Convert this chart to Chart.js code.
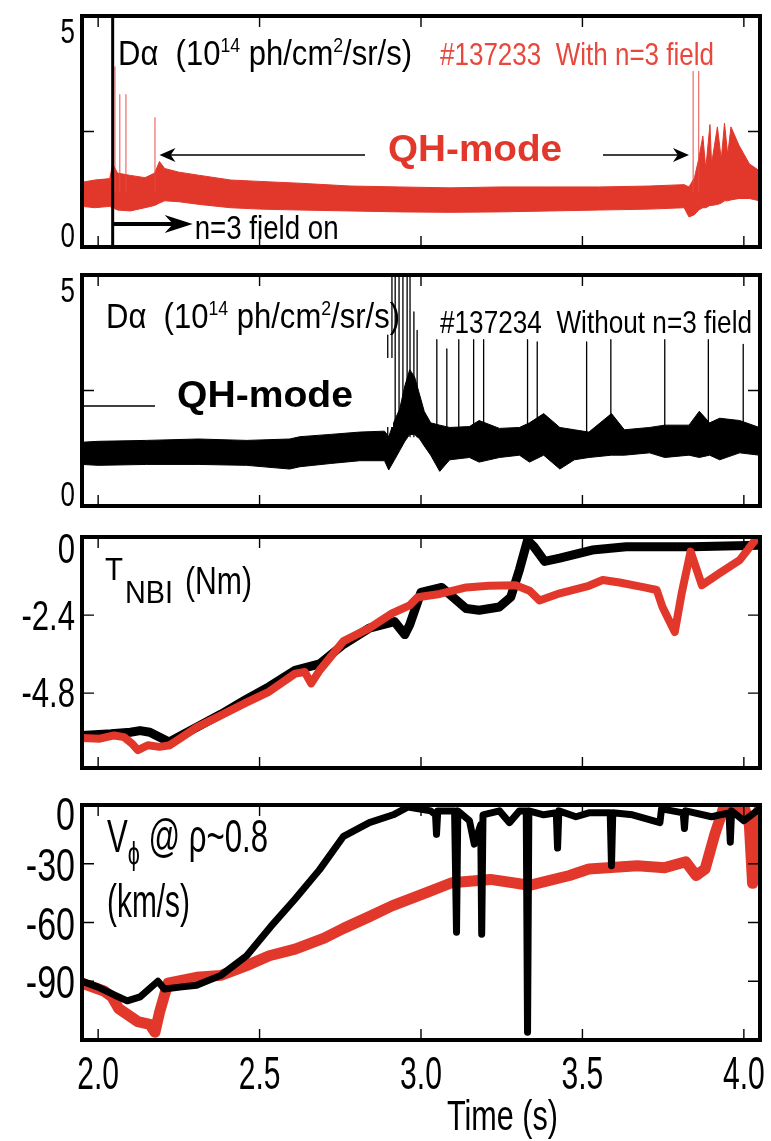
<!DOCTYPE html>
<html>
<head>
<meta charset="utf-8">
<script src="https://cdn.jsdelivr.net/npm/chart.js@4.4.1/dist/chart.umd.min.js"></script>
<style>
  body { margin: 0; background: #fff; }
  #wrap { position: relative; width: 771px; height: 1141px; }
  #wrap canvas { position: absolute; left: 0; }
</style>
</head>
<body>
<div id="wrap">
  <canvas id="c1" width="771" height="262" style="top:0px"></canvas>
  <canvas id="c2" width="771" height="260" style="top:262px"></canvas>
  <canvas id="c3" width="771" height="264" style="top:522px"></canvas>
  <canvas id="c4" width="771" height="355" style="top:786px"></canvas>
</div>
<script>
// ---- data ----
const timeMin = 1.95, timeMax = 4.05;
const timeTicks = [2.0, 2.5, 3.0, 3.5, 4.0];
const timeTickLabels = ['2.0', '2.5', '3.0', '3.5', '4.0'];
const fieldOnTime = 2.045;
const qhStart = 2.19, qhEnd = 3.83;

// D-alpha #137233 (with n=3 field), upper / lower edge of the noisy trace
const da233Time = [1.95, 1.99, 2.036, 2.045, 2.06, 2.10, 2.145, 2.175, 2.19, 2.206, 2.25, 2.315, 2.41, 2.50, 2.625, 2.78, 2.934, 3.09, 3.243, 3.40, 3.553, 3.708, 3.815, 3.83, 3.847, 3.86, 3.873, 3.882, 3.895, 3.90, 3.918, 3.93, 3.94, 3.95, 3.96, 3.985, 4.017, 4.048];
const da233Hi = [1.40, 1.45, 1.48, 1.80, 1.60, 1.55, 1.50, 1.60, 1.85, 1.70, 1.62, 1.55, 1.45, 1.42, 1.38, 1.32, 1.30, 1.28, 1.30, 1.30, 1.30, 1.32, 1.35, 1.30, 1.50, 1.90, 2.40, 1.70, 2.65, 1.80, 2.60, 1.90, 2.68, 2.00, 2.60, 2.20, 1.80, 1.65];
const da233Lo = [0.88, 0.85, 0.88, 0.85, 0.80, 0.78, 0.85, 0.90, 0.95, 1.00, 0.98, 0.92, 0.85, 0.82, 0.80, 0.78, 0.76, 0.75, 0.76, 0.78, 0.80, 0.82, 0.85, 0.65, 0.70, 0.80, 0.85, 0.85, 0.90, 0.90, 0.92, 0.95, 1.00, 1.00, 1.02, 1.05, 1.05, 1.00];
const da233SpikeTime = [2.052, 2.067, 2.086, 2.176, 3.843, 3.86];
const da233SpikePeak = [3.9, 3.3, 3.3, 2.8, 3.8, 3.8];

// D-alpha #137234 (without n=3 field)
const da234Time = [1.95, 2.0, 2.15, 2.31, 2.46, 2.593, 2.625, 2.72, 2.81, 2.887, 2.90, 2.918, 2.934, 2.95, 2.965, 2.98, 2.996, 3.01, 3.03, 3.058, 3.089, 3.15, 3.18, 3.243, 3.305, 3.336, 3.38, 3.43, 3.475, 3.52, 3.59, 3.63, 3.708, 3.755, 3.83, 3.862, 3.894, 3.925, 3.987, 4.048];
const da234Hi = [1.38, 1.40, 1.42, 1.45, 1.42, 1.45, 1.50, 1.55, 1.60, 1.62, 1.50, 1.85, 2.10, 2.60, 2.95, 2.80, 2.40, 2.05, 1.80, 1.75, 1.70, 1.72, 1.85, 1.68, 1.70, 1.80, 2.00, 1.70, 1.65, 1.60, 2.00, 1.65, 1.70, 1.75, 1.75, 2.05, 1.80, 1.90, 1.85, 1.70];
const da234Lo = [0.90, 0.88, 0.90, 0.90, 0.88, 0.80, 0.85, 0.92, 0.98, 0.98, 0.78, 1.00, 1.20, 1.40, 1.55, 1.55, 1.45, 1.30, 1.10, 0.75, 1.00, 1.05, 0.95, 1.05, 1.10, 0.95, 1.10, 0.80, 1.00, 1.05, 1.10, 1.10, 1.15, 1.05, 1.10, 1.05, 1.10, 1.00, 1.15, 1.10];
const da234SpikeTime = [2.897, 2.91, 2.92, 2.932, 2.944, 2.957, 2.966, 2.978, 2.988, 3.049, 3.08, 3.117, 3.163, 3.194, 3.33, 3.36, 3.513, 3.588, 3.755, 3.89, 3.998];
const da234SpikePeak = [3.7, 5, 5, 5, 5, 5, 5, 4.2, 3.8, 3.6, 3.4, 3.6, 3.6, 3.6, 3.6, 3.55, 3.55, 3.6, 3.6, 3.6, 3.5];

// T_NBI (Nm)
const tq233Time = [1.95, 2.005, 2.05, 2.08, 2.105, 2.123, 2.154, 2.19, 2.222, 2.253, 2.305, 2.377, 2.457, 2.53, 2.61, 2.64, 2.66, 2.686, 2.76, 2.84, 2.91, 2.965, 2.99, 3.058, 3.14, 3.21, 3.293, 3.336, 3.367, 3.43, 3.52, 3.563, 3.615, 3.692, 3.73, 3.748, 3.77, 3.786, 3.808, 3.835, 3.87, 3.925, 3.987, 4.04, 4.048];
const tq233 = [-6.18, -6.2, -6.1, -6.15, -6.35, -6.55, -6.4, -6.45, -6.4, -6.2, -5.85, -5.5, -5.1, -4.75, -4.2, -4.15, -4.5, -4.1, -3.2, -2.8, -2.35, -2.1, -1.85, -1.75, -1.55, -1.5, -1.48, -1.65, -1.95, -1.73, -1.5, -1.32, -1.4, -1.55, -1.63, -2.15, -2.6, -2.92, -1.7, -0.45, -1.48, -1.11, -0.71, -0.03, 0];
const tq234Time = [1.95, 2.04, 2.10, 2.13, 2.16, 2.22, 2.305, 2.38, 2.457, 2.53, 2.61, 2.686, 2.76, 2.84, 2.918, 2.95, 2.965, 3.0, 3.064, 3.105, 3.14, 3.18, 3.243, 3.278, 3.305, 3.33, 3.35, 3.383, 3.43, 3.53, 3.636, 3.84, 4.048];
const tq234 = [-6.1, -6.05, -6.0, -5.95, -6.0, -6.3, -5.85, -5.45, -5.0, -4.6, -4.1, -3.9, -3.3, -2.8, -2.6, -3.0, -2.7, -1.7, -1.55, -1.9, -2.2, -2.25, -2.15, -1.85, -1.0, -0.1, -0.3, -0.75, -0.65, -0.4, -0.3, -0.3, -0.25];

// V_phi at rho~0.8 (km/s)
const vp234Time = [1.95, 2.0, 2.05, 2.09, 2.13, 2.185, 2.205, 2.253, 2.305, 2.38, 2.46, 2.535, 2.61, 2.686, 2.76, 2.84, 2.914, 2.96, 3.03, 3.045, 3.048, 3.052, 3.104, 3.11, 3.114, 3.15, 3.165, 3.185, 3.188, 3.192, 3.243, 3.274, 3.305, 3.326, 3.33, 3.334, 3.38, 3.419, 3.423, 3.427, 3.48, 3.52, 3.586, 3.59, 3.594, 3.655, 3.74, 3.745, 3.812, 3.816, 3.82, 3.9, 3.954, 3.958, 3.962, 4.0, 4.048];
const vp234 = [-90, -93, -97, -100, -98, -90, -94, -93, -92, -87, -77, -62, -48, -33, -16, -9, -5, -1, -3, -5, -15, -3, -3, -65, -3, -8, -20, -10, -66, -5, -3, -9, -3, -3, -116, -3, -5, -4, -22, -3, -6, -4, -4, -31, -4, -5, -9, -2, -4, -12, -3, -6, -4, -19, -3, -8, -2];
const vp233Time = [1.95, 2.018, 2.043, 2.064, 2.123, 2.16, 2.176, 2.19, 2.216, 2.305, 2.38, 2.46, 2.53, 2.61, 2.70, 2.76, 2.84, 2.91, 3.017, 3.095, 3.215, 3.336, 3.46, 3.52, 3.67, 3.755, 3.82, 3.852, 3.88, 3.91, 3.94, 3.97, 4.0, 4.017, 4.027, 4.04, 4.048];
const vp233 = [-91, -95, -98, -104, -110.6, -112, -116, -106, -91, -88, -87, -82, -77, -73.6, -68, -63, -57, -51.5, -44.8, -39.7, -38, -41, -36, -32.7, -31, -32, -29, -36, -32.7, -15, 0, -3.4, -0.5, -10, -40, -5, -2];

const daTicks = [5, 2.5, 0], daTickLabels = ['5', '', '0'];
const tqTicks = [0, -2.4, -4.8], tqTickLabels = ['0', '-2.4', '-4.8'];
const vpTicks = [0, -30, -60, -90], vpTickLabels = ['0', '-30', '-60', '-90'];

// ---- styles ----
const RED = '#e2372b';
const TXT_RED = '#e8473c';
const FONT = '"Liberation Sans", Arial, sans-serif';

const pts = (t, v) => t.map((x, i) => ({ x: x, y: v[i] }));
const spikes = (t, v, base) => t.flatMap((x, i) => [{ x: x, y: base }, { x: x, y: v[i] }, { x: x, y: null }]);

function runs(ctx, parts, x, y, o) {
  ctx.save();
  let raw = 0;
  parts.forEach(p => { ctx.font = (p[3] ? 'bold ' : '') + p[1] + 'px ' + FONT; raw += ctx.measureText(p[0]).width; });
  const sx = o.w ? o.w / raw : (o.sx || 1);
  let x0 = x;
  if (o.align === 'right') x0 = x - raw * sx;
  if (o.align === 'center') x0 = x - raw * sx / 2;
  ctx.translate(x0, y);
  ctx.scale(sx, 1);
  ctx.fillStyle = o.color || '#000';
  ctx.textBaseline = 'alphabetic';
  let cx = 0;
  parts.forEach(p => {
    ctx.font = (p[3] ? 'bold ' : '') + p[1] + 'px ' + FONT;
    ctx.fillText(p[0], cx, p[2] || 0);
    cx += ctx.measureText(p[0]).width;
  });
  ctx.restore();
}

function arrow(ctx, x1, x2, y, lw, headLen, headHalf) {
  const dir = x2 > x1 ? 1 : -1;
  ctx.save();
  ctx.strokeStyle = '#000';
  ctx.fillStyle = '#000';
  ctx.lineWidth = lw;
  ctx.beginPath();
  ctx.moveTo(x1, y);
  ctx.lineTo(x2 - dir * headLen * 0.6, y);
  ctx.stroke();
  ctx.beginPath();
  ctx.moveTo(x2, y);
  ctx.lineTo(x2 - dir * headLen, y - headHalf);
  ctx.lineTo(x2 - dir * headLen * 0.7, y);
  ctx.lineTo(x2 - dir * headLen, y + headHalf);
  ctx.closePath();
  ctx.fill();
  ctx.restore();
}

function drawFrame(chart, p) {
  const { ctx, chartArea: a, scales } = chart;
  const xs = scales.x, ys = scales.y;
  ctx.save();
  ctx.strokeStyle = '#000';
  ctx.lineWidth = 1.4;
  ctx.beginPath();
  timeTicks.forEach(v => {
    const px = xs.getPixelForValue(v);
    ctx.moveTo(px, a.bottom); ctx.lineTo(px, a.bottom - 11);
    ctx.moveTo(px, a.top); ctx.lineTo(px, a.top + 11);
  });
  p.yTicks.forEach(v => {
    const py = ys.getPixelForValue(v);
    ctx.moveTo(a.left, py); ctx.lineTo(a.left + 12, py);
    ctx.moveTo(a.right, py); ctx.lineTo(a.right - 12, py);
  });
  ctx.stroke();
  ctx.lineWidth = 4;
  ctx.strokeRect(a.left, a.top, a.right - a.left, a.bottom - a.top);
  ctx.restore();

  p.yTicks.forEach((v, i) => {
    if (!p.yLabels[i]) return;
    const py = ys.getPixelForValue(v);
    runs(ctx, [[p.yLabels[i], p.labelSize]], 75, py + p.labelDy[i], { sx: 0.74, align: 'right' });
  });
  if (p.xLabels) {
    timeTicks.forEach((v, i) => {
      runs(ctx, [[timeTickLabels[i], 47]], xs.getPixelForValue(v), 1089 - 786, { sx: 0.64, align: 'center' });
    });
    runs(ctx, [['Time (s)', 42]], 447, 1130 - 786, { w: 111 });
  }
}

function makePanel(id, p) {
  return new Chart(document.getElementById(id), {
    type: 'line',
    data: { datasets: p.datasets },
    options: {
      responsive: false,
      animation: false,
      events: [],
      layout: { padding: { left: 82, right: 11, top: p.padTop, bottom: p.padBottom } },
      scales: {
        x: { type: 'linear', min: timeMin, max: timeMax, display: false },
        y: { type: 'linear', min: p.yMin, max: p.yMax, display: false }
      },
      plugins: { legend: { display: false }, tooltip: { enabled: false } },
      elements: { point: { radius: 0 }, line: { tension: 0, borderJoinStyle: 'round', borderCapStyle: 'round' } }
    },
    plugins: [{
      id: 'deco',
      afterDraw(chart) {
        if (p.extra) p.extra(chart.ctx, chart);
        drawFrame(chart, p);
      }
    }]
  });
}

// panel 1: D-alpha with n=3 field
makePanel('c1', {
  padTop: 16, padBottom: 15, yMin: 0, yMax: 5,
  yTicks: daTicks, yLabels: daTickLabels, labelSize: 35, labelDy: [27, 0, 0],
  datasets: [
    { data: spikes(da233SpikeTime, da233SpikePeak, 1.2), borderColor: 'rgba(232,75,65,0.75)', borderWidth: 1.3 },
    { data: pts(da233Time, da233Lo), borderColor: RED, borderWidth: 1, fill: false },
    { data: pts(da233Time, da233Hi), borderColor: RED, borderWidth: 1, backgroundColor: RED, fill: '-1' }
  ],
  extra(ctx, chart) {
    const a = chart.chartArea, xs = chart.scales.x;
    const xOn = xs.getPixelForValue(fieldOnTime);
    ctx.save();
    ctx.strokeStyle = '#000';
    ctx.lineWidth = 3;
    ctx.beginPath(); ctx.moveTo(xOn, a.top); ctx.lineTo(xOn, a.bottom); ctx.stroke();
    ctx.restore();
    arrow(ctx, xOn, xOn + 80, 224, 4, 28, 9);
    runs(ctx, [['n=3 field on', 34]], xOn + 82, 239, { w: 144 });
    arrow(ctx, 365, xs.getPixelForValue(qhStart), 155, 1.5, 16, 7);
    arrow(ctx, 603, xs.getPixelForValue(qhEnd), 155, 1.5, 16, 7);
    runs(ctx, [['QH-mode', 37, 0, true]], 475, 161, { w: 174, align: 'center', color: RED });
    runs(ctx, [['D\u03b1  (10', 35], ['14', 20, -13], [' ph/cm', 35], ['2', 20, -13], ['/sr/s)', 35]], 118, 65, { w: 294 });
    runs(ctx, [['#137233  With n=3 field', 32]], 440, 65, { w: 274, color: TXT_RED });
  }
});

// panel 2: D-alpha without n=3 field
makePanel('c2', {
  padTop: 13, padBottom: 16, yMin: 0, yMax: 5,
  yTicks: daTicks, yLabels: daTickLabels, labelSize: 35, labelDy: [27, 0, 0],
  datasets: [
    { data: spikes(da234SpikeTime, da234SpikePeak, 1.5), borderColor: '#000', borderWidth: 1.3 },
    { data: pts(da234Time, da234Lo), borderColor: '#000', borderWidth: 1, fill: false },
    { data: pts(da234Time, da234Hi), borderColor: '#000', borderWidth: 1, backgroundColor: '#000', fill: '-1' }
  ],
  extra(ctx, chart) {
    const a = chart.chartArea;
    ctx.save();
    ctx.fillStyle = '#fff';
    ctx.fillRect(a.left + 2, 358 - 262, 393 - a.left - 2, 427 - 358);
    ctx.strokeStyle = '#000';
    ctx.lineWidth = 1.5;
    ctx.beginPath(); ctx.moveTo(a.left, 406 - 262); ctx.lineTo(155, 406 - 262); ctx.stroke();
    ctx.restore();
    runs(ctx, [['QH-mode', 37, 0, true]], 177, 407 - 262, { w: 176 });
    runs(ctx, [['D\u03b1  (10', 35], ['14', 20, -13], [' ph/cm', 35], ['2', 20, -13], ['/sr/s)', 35]], 106, 328 - 262, { w: 294 });
    runs(ctx, [['#137234  Without n=3 field', 32]], 440, 333 - 262, { w: 312 });
  }
});

// panel 3: NBI torque
makePanel('c3', {
  padTop: 15, padBottom: 18, yMin: -7.1, yMax: 0,
  yTicks: tqTicks, yLabels: tqTickLabels, labelSize: 42, labelDy: [26, 15, 14],
  datasets: [
    { data: pts(tq233Time, tq233), borderColor: RED, borderWidth: 8 },
    { data: pts(tq234Time, tq234), borderColor: '#000', borderWidth: 9 }
  ],
  extra(ctx) {
    runs(ctx, [['T', 32]], 105, 580 - 522, { w: 18 });
    runs(ctx, [['NBI', 32]], 125, 603 - 522, { w: 48 });
    runs(ctx, [['(Nm)', 38]], 185, 594 - 522, { w: 67 });
  }
});

// panel 4: toroidal rotation
makePanel('c4', {
  padTop: 19, padBottom: 101, yMin: -120, yMax: 0,
  yTicks: vpTicks, yLabels: vpTickLabels, labelSize: 46, labelDy: [25, 17, 17, 17],
  xLabels: true,
  datasets: [
    { data: pts(vp234Time, vp234), borderColor: '#000', borderWidth: 7 },
    { data: pts(vp233Time, vp233), borderColor: RED, borderWidth: 11 }
  ],
  extra(ctx) {
    runs(ctx, [['V', 46], ['\u03d5', 32, 12], [' @ \u03c1~0.8', 46]], 107, 852 - 786, { w: 161 });
    runs(ctx, [['(km/s)', 46]], 107, 917 - 786, { w: 83 });
  }
});
</script>
</body>
</html>
